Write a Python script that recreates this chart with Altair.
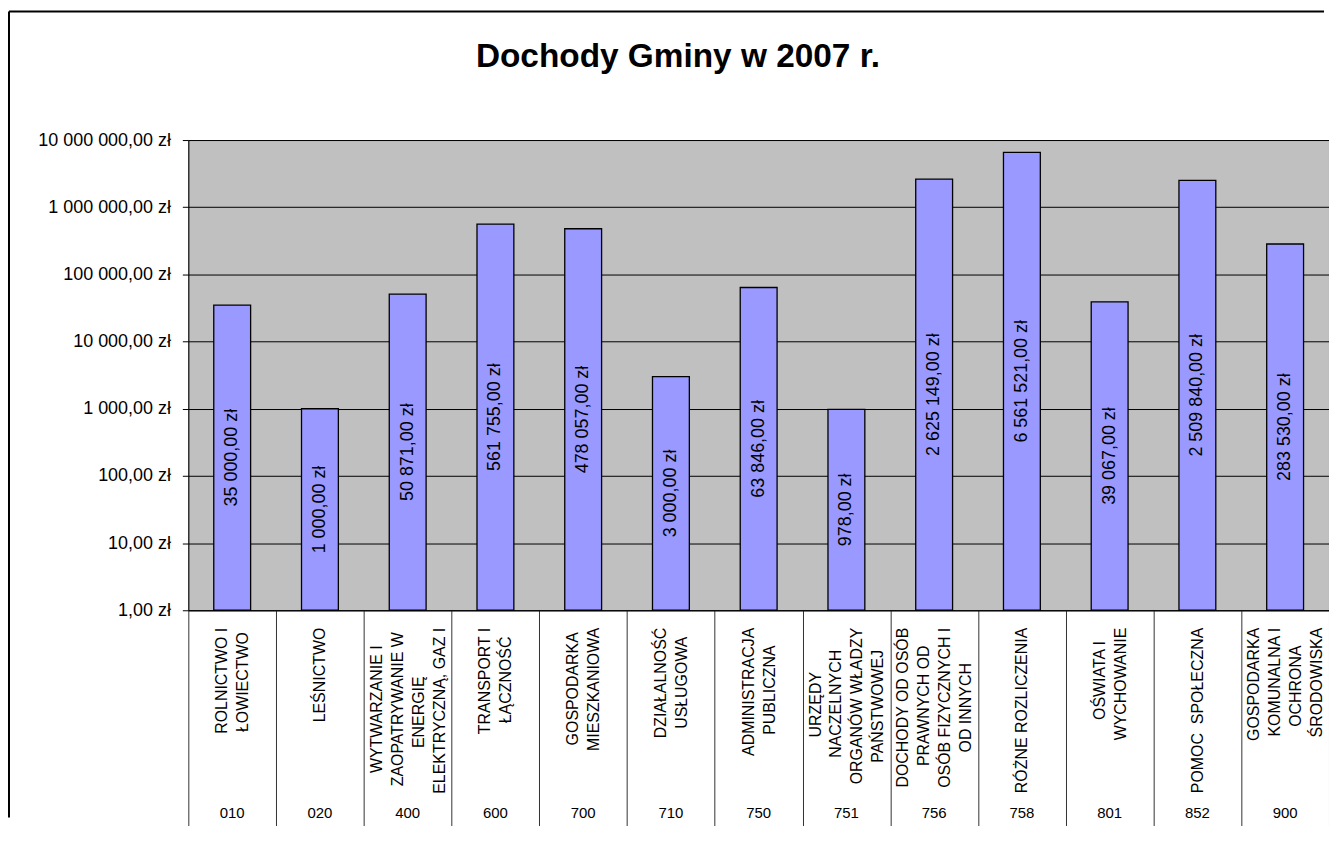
import altair as alt
import pandas as pd

# --- data ---
kody = ["010", "020", "400", "600", "700", "710", "750", "751", "756", "758", "801", "852", "900"]
nazwy = [
    "ROLNICTWO I|ŁOWIECTWO",
    "LEŚNICTWO",
    "WYTWARZANIE I|ZAOPATRYWANIE W|ENERGIĘ|ELEKTRYCZNĄ, GAZ I",
    "TRANSPORT I|ŁĄCZNOŚĆ",
    "GOSPODARKA|MIESZKANIOWA",
    "DZIAŁALNOŚĆ|USŁUGOWA",
    "ADMINISTRACJA|PUBLICZNA",
    "URZĘDY|NACZELNYCH|ORGANÓW WŁADZY|PAŃSTWOWEJ",
    "DOCHODY OD OSÓB|PRAWNYCH OD|OSÓB FIZYCZNYCH I|OD INNYCH",
    "RÓŻNE ROZLICZENIA",
    "OŚWIATA I|WYCHOWANIE",
    "POMOC  SPOŁECZNA",
    "GOSPODARKA|KOMUNALNA I|OCHRONA|ŚRODOWISKA",
]
wartosci = [35000, 1000, 50871, 561755, 478057, 3000, 63846, 978, 2625149, 6561521, 39067, 2509840, 283530]
y_ticks = [1, 10, 100, 1000, 10000, 100000, 1000000, 10000000]


def zl(v):
    return f"{v:,.2f}".replace(",", " ").replace(".", ",") + " zł"


# --- centre the lines of each category label (Arial / Liberation Sans advance widths) ---
ADV = {
    "A": 667, "B": 667, "C": 722, "D": 722, "E": 667, "F": 611, "G": 778, "H": 722,
    "I": 278, "J": 500, "K": 667, "L": 556, "M": 833, "N": 722, "O": 778, "P": 667,
    "Q": 778, "R": 722, "S": 667, "T": 611, "U": 722, "V": 667, "W": 944, "X": 667,
    "Y": 667, "Z": 611, " ": 278, ",": 278,
    "Ą": 667, "Ć": 722, "Ę": 667, "Ł": 556, "Ń": 722, "Ó": 778, "Ś": 667, "Ź": 611, "Ż": 611,
}
NBSP = "\u00a0"
ZWSP = "\u200b"  # keeps the padding from being trimmed


def centred(label):
    lines = label.replace("  ", NBSP + " ").split("|")
    widths = [sum(ADV.get(ch if ch != NBSP else " ", 600) for ch in ln) for ln in lines]
    m = max(widths)
    out = []
    for ln, w in zip(lines, widths):
        n = int(round((m - w) / 2 / ADV[" "]))
        out.append(ln + (NBSP * n + ZWSP if n > 0 else ""))
    return "|".join(out)


nazwy_wysw = [centred(n) for n in nazwy]

df = pd.DataFrame({"kod": kody, "wartosc": wartosci, "etykieta": [zl(v) for v in wartosci]})

FONT = "Liberation Sans"
LINE_H = 21

codes_js = "[" + ",".join(f"'{k}'" for k in kody) + "]"
names_js = "[" + ",".join(f"'{n}'" for n in nazwy_wysw) + "]"
idx = f"indexof({codes_js}, datum.value)"
name_expr = f"{idx} < 0 ? '' : split({names_js}[{idx}], '|')"
offset_expr = f"{idx} < 0 ? 0 : -(length(split({names_js}[{idx}], '|')) - 1) * {LINE_H / 2}"

x_scale = alt.Scale(paddingInner=0, paddingOuter=0)
y_scale = alt.Scale(type="log", domain=[1, 10000000], nice=False)

y_axis = alt.Axis(
    title=None,
    values=y_ticks,
    labelExpr="replace(replace(format(datum.value, ',.2f'), regexp(',', 'g'), ' '), '.', ',') + ' zł'",
    labelFontSize=18,
    labelColor="black",
    labelPadding=12,
    tickSize=6,
    tickColor="black",
    domainColor="black",
    grid=True,
    gridColor="black",
    gridWidth=1,
)

name_axis = alt.Axis(
    title=None,
    orient="bottom",
    labelExpr=name_expr,
    labelOffset=alt.ExprRef(expr=offset_expr),
    labelAngle=270,
    labelAlign="right",
    labelBaseline="middle",
    labelFontSize=16,
    labelLineHeight=LINE_H,
    labelColor="black",
    labelPadding=-200,
    labelOverlap=False,
    labelLimit=400,
    tickBand="extent",
    tickSize=217,
    tickColor="#333333",
    domainColor="black",
    grid=False,
)

code_axis = alt.Axis(
    title=None,
    orient="bottom",
    labelAngle=0,
    labelFontSize=15,
    labelColor="black",
    labelPadding=196,
    ticks=False,
    domain=False,
    grid=False,
)

base = alt.Chart(df)

bars = base.mark_bar(
    color="#9999FF", stroke="black", strokeWidth=1.3, width=alt.RelativeBandSize(0.42)
).encode(
    x=alt.X("kod:N", sort=kody, scale=x_scale, axis=name_axis),
    y=alt.Y("wartosc:Q", scale=y_scale, axis=y_axis),
    y2=alt.datum(1),
)

labels = base.transform_calculate(
    srodek="sqrt(datum.wartosc)"
).mark_text(
    angle=270, align="center", baseline="middle", fontSize=18, color="black", font=FONT
).encode(
    x=alt.X("kod:N", sort=kody, scale=x_scale, axis=None),
    y=alt.Y("srodek:Q", scale=y_scale, axis=y_axis),
    text="etykieta:N",
)

codes = base.mark_point(opacity=0).encode(
    x=alt.X("kod:N", sort=kody, scale=x_scale, axis=code_axis),
    y=alt.Y("wartosc:Q", scale=y_scale, axis=y_axis),
)

# outer chart-area frame (decoration, pixel placed): left and top edges
frame_src = alt.Chart(pd.DataFrame({"r": [0]}))
frame_left = frame_src.mark_rule(color="black", strokeWidth=2).encode(
    x=alt.value(-180), y=alt.value(-129), y2=alt.value(680)
)
frame_top = frame_src.mark_rule(color="black", strokeWidth=2).encode(
    x=alt.value(-180), x2=alt.value(1140), y=alt.value(-129)
)

chart = alt.layer(frame_left, frame_top, bars, labels, codes).resolve_axis(x="independent").resolve_scale(y="shared").properties(
    width=1145,
    height=472,
    padding={"left": 181, "top": 131, "right": 0, "bottom": 215},
    autosize=alt.AutoSizeParams(type="none"),
    title=alt.TitleParams(
        "Dochody Gminy w 2007 r.",
        fontSize=33.5,
        fontWeight="bold",
        font=FONT,
        color="black",
        anchor="middle",
        frame="group",
        dx=-81,
        offset=-64,
    ),
).configure(
    font=FONT,
).configure_view(
    fill="#C0C0C0",
    stroke="#808080",
    strokeWidth=1,
)

chart.save("out.html", embed_options={"renderer": "svg", "actions": False})
